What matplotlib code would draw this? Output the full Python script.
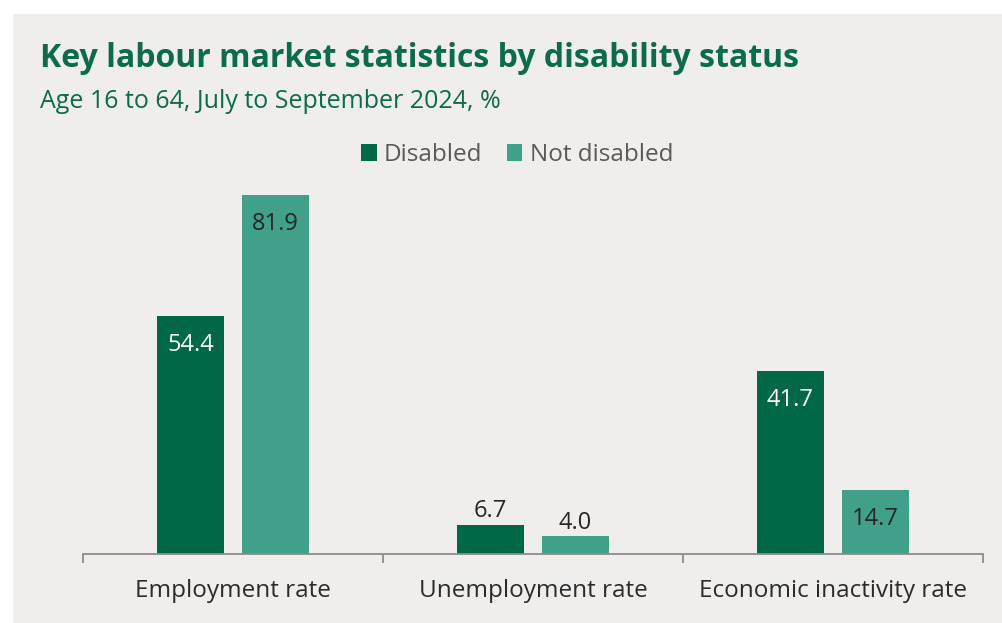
import numpy as np
import matplotlib.pyplot as plt
from matplotlib.patches import Rectangle

categories = ["Employment rate", "Unemployment rate", "Economic inactivity rate"]
disabled = [54.4, 6.7, 41.7]
not_disabled = [81.9, 4.0, 14.7]
series_names = ["Disabled", "Not disabled"]

dark_green = "#006747"
light_green = "#41A08A"
bg = "#EFEEEC"
title_green = "#0B6B4B"

plt.rcParams['font.family'] = ['Open Sans', 'DejaVu Sans']

W, H = 1002, 623
fig = plt.figure(figsize=(W / 100, H / 100), dpi=100, facecolor="white")
# grey panel behind everything, white margin top and left
fig.patches.append(Rectangle((13 / W, 0), 1, 1 - 14 / H, transform=fig.transFigure,
                             facecolor=bg, edgecolor="none", zorder=-10))

ax = fig.add_axes([83 / W, 1 - 554 / H, 900 / W, (554 - 180) / H])
ax.set_facecolor("none")

x = np.arange(len(categories))
width = 0.223
offset = 0.1417
bars1 = ax.bar(x - offset, disabled, width, color=dark_green, label=series_names[0])
bars2 = ax.bar(x + offset, not_disabled, width, color=light_green, label=series_names[1])

ax.set_xlim(-0.5, len(categories) - 0.5)
ax.set_ylim(0, (554 - 180) / (359 / 81.9))

# value labels: inside the bar when it is tall enough, else on top
for bars, vals, inner in [(bars1, disabled, "white"), (bars2, not_disabled, "#262626")]:
    for b, v in zip(bars, vals):
        cx = b.get_x() + b.get_width() / 2
        if v > 10:
            ax.annotate(f"{v:.1f}", (cx, v), xytext=(0, -21), textcoords="offset points",
                        ha="center", va="center", fontsize=17, color=inner)
        else:
            ax.annotate(f"{v:.1f}", (cx, v), xytext=(0, 10), textcoords="offset points",
                        ha="center", va="center", fontsize=17, color="#262626")

for s in ["top", "right", "left"]:
    ax.spines[s].set_visible(False)
ax.spines["bottom"].set_color("#8C8C8C")
ax.spines["bottom"].set_linewidth(1.3)
ax.set_yticks([])

ax.set_xticks(np.arange(-0.5, len(categories)), labels=[])
ax.tick_params(axis="x", which="major", length=6.5, width=1.3, color="#8C8C8C", direction="out")
ax.set_xticks(x, labels=categories, minor=True)
ax.tick_params(axis="x", which="minor", length=0, pad=18, labelsize=17.5, labelcolor="#2B2B2B")

fig.text(40 / W, 1 - 67 / H, "Key labour market statistics by disability status",
         fontsize=23, fontweight="bold", color=title_green, va="baseline", ha="left")
fig.text(40 / W, 1 - 108 / H, "Age 16 to 64, July to September 2024, %",
         fontsize=18, color=title_green, va="baseline", ha="left")

leg = fig.legend(loc="center", bbox_to_anchor=(517 / W, 1 - 155 / H), ncol=2, frameon=False,
                 fontsize=17.5, handlelength=0.65, handleheight=0.65, handletextpad=0.3,
                 columnspacing=1.0)
for t in leg.get_texts():
    t.set_color("#595959")

fig.savefig("out.png", dpi=100, facecolor=fig.get_facecolor())
